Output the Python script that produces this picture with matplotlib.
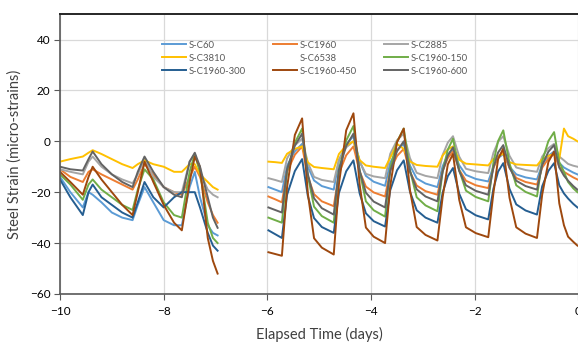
import numpy as np
from matplotlib import pyplot as plt
from matplotlib.lines import Line2D

plt.rcParams['font.family'] = ['Lato', 'DejaVu Sans']

# time grids (days), first block -10..-7, second block -6..0
t1 = [-10, -9.8, -9.56, -9.45, -9.37, -9.2, -9.0, -8.8, -8.6, -8.5, -8.37,
      -8.2, -8.0, -7.8, -7.65, -7.5, -7.4, -7.3, -7.15, -7.05, -6.96]
t2 = [-5.98, -5.85, -5.72, -5.62, -5.47, -5.33, -5.22, -5.1, -4.95, -4.72,
      -4.62, -4.48, -4.34, -4.22, -4.1, -3.95, -3.73,
      -3.63, -3.5, -3.37, -3.25, -3.12, -2.95, -2.72,
      -2.62, -2.52, -2.42, -2.3, -2.17, -1.98, -1.74,
      -1.64, -1.55, -1.45, -1.33, -1.2, -1.02, -0.8,
      -0.7, -0.58, -0.47, -0.37, -0.28, -0.2, -0.1, -0.02]

# steel strain (micro-strains)
sc60_a = [-14, -20, -26, -20, -21, -24, -28, -30, -31, -25, -18, -24, -31, -33, -33, -18, -12, -22, -33, -36, -37]
sc60_b = [-18, -19, -20, -9.6, -3.9, -1, -10, -15.4, -17.6, -19,
          -7.5, -1.2, 2, -7.8, -13.6, -15.9, -17.5,
          -8.4, -3.5, -1, -9.5, -14.6, -16.6, -18,
          -9.8, -5.3, -3, -9.4, -13.2, -14.8, -15.8,
          -9.9, -6.6, -5, -10, -13, -14.2, -15,
          -9, -5.7, -4, -8.5, -10.3, -11.2, -12.3, -13]

sc1960_a = [-11, -14, -16, -12, -11, -13, -15, -17, -19, -15, -9, -13, -18, -20, -21, -14, -10, -14, -24, -29, -32]
sc1960_b = [-21.7, -22.8, -24, -11.9, -5.3, -2, -13.8, -20.8, -23.6, -25.5,
            -12.6, -5.5, -2, -11.9, -17.8, -20.1, -21.7,
            -11.4, -5.8, -3, -12, -17.4, -19.6, -21,
            -11.7, -6.6, -4, -11.2, -15.5, -17.3, -18.4,
            -10.5, -6.2, -4, -10.5, -14.4, -16, -17,
            -10.4, -6.8, -5, -10, -12, -13, -14.2, -15]

sc2885_a = [-11, -12, -13, -8, -6, -10, -13, -15, -16.5, -13, -7, -14, -18, -20, -20, -8, -5, -12, -19, -21, -22]
sc2885_b = [-14.5, -15.2, -16, -6.7, -1.6, 1, -8.4, -14, -15.2, -16,
            -7.2, -2.4, 0, -8, -12.8, -13.8, -14.5,
            -4.9, 0.4, 3, -6.6, -12.4, -13.6, -14.5,
            -5.4, -0.5, 2, -6, -10.8, -11.8, -12.5,
            -4.5, -0.2, 2, -5.7, -10.3, -11.3, -12,
            -6, -2.7, -1, -6, -7.5, -8.9, -9.6, -10]

sc3810_a = [-8, -7, -6, -4.5, -3.5, -5, -7, -9, -10.5, -9, -7.5, -9, -10, -12, -12, -9, -9, -13, -16, -18, -19]
sc3810_b = [-8, -8.2, -8.5, -4.9, -3, -2, -8.3, -10.1, -10.5, -11,
            -5, -1.7, 0, -7.4, -9.5, -10, -10.5,
            -6.4, -1, -3, -7.9, -9.3, -9.7, -10,
            -5.6, -3.2, -2, -7.3, -8.8, -9.1, -9.5,
            -7, -5.7, -5, -8.2, -9.1, -9.3, -9.5,
            -7, -5.7, -5, -7, 5, 2, 1, 0]

sc150_a = [-13, -17, -23, -17, -15, -19, -22, -25, -27, -19, -11, -15, -24, -29, -30, -12, -5, -12, -32, -38, -40]
sc150_b = [-30, -31, -32, -11.7, -0.6, 5, -13.5, -25.7, -29.4, -32,
           -11.1, 0.3, 6, -11.8, -23.6, -27.1, -29.6,
           -10.6, -0.2, 5, -11.3, -22, -25.2, -27.5,
           -11.8, -3.3, 1, -11.3, -19.4, -21.9, -23.6,
           -8.3, 0.1, 4.3, -8.7, -17.3, -19.9, -21.7,
           -7.8, 0.1, 3.6, -8.2, -12, -16, -18.5, -20]

sc300_a = [-15, -22, -29, -20, -17, -22, -25, -28, -30, -24, -16, -22, -26, -22, -20, -20, -20, -26, -36, -41, -43]
sc300_b = [-35, -36.5, -38, -21, -11.7, -7, -21.5, -30.2, -33.7, -36,
           -20.3, -11.8, -7.5, -20.5, -28.3, -31.4, -33.5,
           -19.2, -11.4, -7.5, -19.8, -27.1, -30, -32,
           -20.2, -13.7, -10.5, -20.6, -26.7, -29.1, -30.7,
           -18.6, -11.9, -8.6, -18.7, -24.8, -27.2, -28.8,
           -17.7, -11.6, -8.6, -17.3, -20.5, -22.5, -24.6, -26]

sc450_a = [-12, -16, -21, -14, -10, -15, -20, -25, -29, -20, -8, -16, -25, -32, -35, -16, -6, -10, -38, -47, -52]
sc450_b = [-43.6, -44.3, -45, -18, 2.5, 9, -20.4, -38.1, -41.8, -44.5,
           -16.8, 4.3, 11, -17.1, -33.9, -37.5, -40,
           -17.5, -0.4, 5, -19.2, -33.7, -36.8, -39,
           -22, -9.1, -5, -23, -33.8, -36.1, -37.7,
           -20.3, -7, -2.8, -22.2, -33.8, -36.3, -38,
           -21, -8.1, -4, -24.4, -33, -37.5, -39.5, -41]

sc600_a = [-10, -11, -11.5, -7, -4, -9, -13, -16, -18, -12, -6, -12, -18, -21, -22, -8, -4.5, -10, -22, -30, -34]
sc600_b = [-26, -27, -28, -11, -1.7, 3, -12.9, -22.4, -26.3, -28.8,
           -11.3, -1.8, 3, -11.5, -20.2, -23.7, -26,
           -11.7, -3.9, 0, -11.8, -18.9, -21.7, -23.6,
           -11.9, -5.6, -2.4, -11.7, -17.3, -19.5, -21,
           -10.3, -4.4, -1.5, -10.3, -15.5, -17.6, -19,
           -9.4, -4.1, -1.5, -10.3, -13.5, -15.5, -17.6, -19]

names = ['S-C60', 'S-C1960', 'S-C2885', 'S-C3810', 'S-C6538',
         'S-C1960-150', 'S-C1960-300', 'S-C1960-450', 'S-C1960-600']
colors = ['#5B9BD5', '#ED7D31', '#A5A5A5', '#FFC000', 'none',
          '#70AD47', '#255E91', '#9E480E', '#636363']
series = [(sc60_a, sc60_b), (sc1960_a, sc1960_b), (sc2885_a, sc2885_b),
          (sc3810_a, sc3810_b), None, (sc150_a, sc150_b), (sc300_a, sc300_b),
          (sc450_a, sc450_b), (sc600_a, sc600_b)]

fig = plt.figure(figsize=(5.78, 3.43), dpi=100)
ax = fig.add_axes([0.1038, 0.143, 0.897, 0.816])

handles = {}
for name, col, s in zip(names, colors, series):
    if s is None:
        # S-C6538 has no visible line in the original
        handles[name] = Line2D([], [], color='none', lw=1.3)
        continue
    # gap between the two blocks
    x = list(t1) + [np.nan] + list(t2)
    y = list(s[0]) + [np.nan] + list(s[1])
    ln, = ax.plot(x, y, color=col, lw=1.4, solid_joinstyle='round')
    handles[name] = ln

ax.set_xlim(-10, 0)
ax.set_ylim(-60, 50)
ax.set_xticks(np.arange(-10, 1, 2))
ax.set_yticks(np.arange(-60, 41, 20))
ax.grid(True, color='#D9D9D9', lw=0.9)
ax.set_axisbelow(True)
ax.tick_params(labelsize=8.5, colors='#595959', length=4, width=0.8,
               labelcolor='black')
ax.tick_params(axis='x', pad=5)
ax.tick_params(axis='y', pad=3)
for sp in ['left', 'bottom']:
    ax.spines[sp].set_color('#595959')
    ax.spines[sp].set_linewidth(1.2)
ax.spines['top'].set_color('#262626')
ax.spines['top'].set_linewidth(1.4)
ax.spines['right'].set_visible(False)

ax.set_xlabel('Elapsed Time (days)', fontsize=10.5, color='#404040', labelpad=7)
ax.set_ylabel('Steel Strain (micro-strains)', fontsize=10.5, color='#404040', labelpad=6)

# legend: matplotlib fills column-wise
order = ['S-C60', 'S-C3810', 'S-C1960-300',
         'S-C1960', 'S-C6538', 'S-C1960-450',
         'S-C2885', 'S-C1960-150', 'S-C1960-600']
leg = ax.legend([handles[n] for n in order], order, ncol=3, frameon=False,
                fontsize=6.8, handlelength=2.6, handletextpad=0.2,
                columnspacing=2.9, labelspacing=0.42,
                loc='upper left', bbox_to_anchor=(0.18, 0.935))
for txt in leg.get_texts():
    txt.set_color('#595959')

fig.savefig('out.png', dpi=100)
